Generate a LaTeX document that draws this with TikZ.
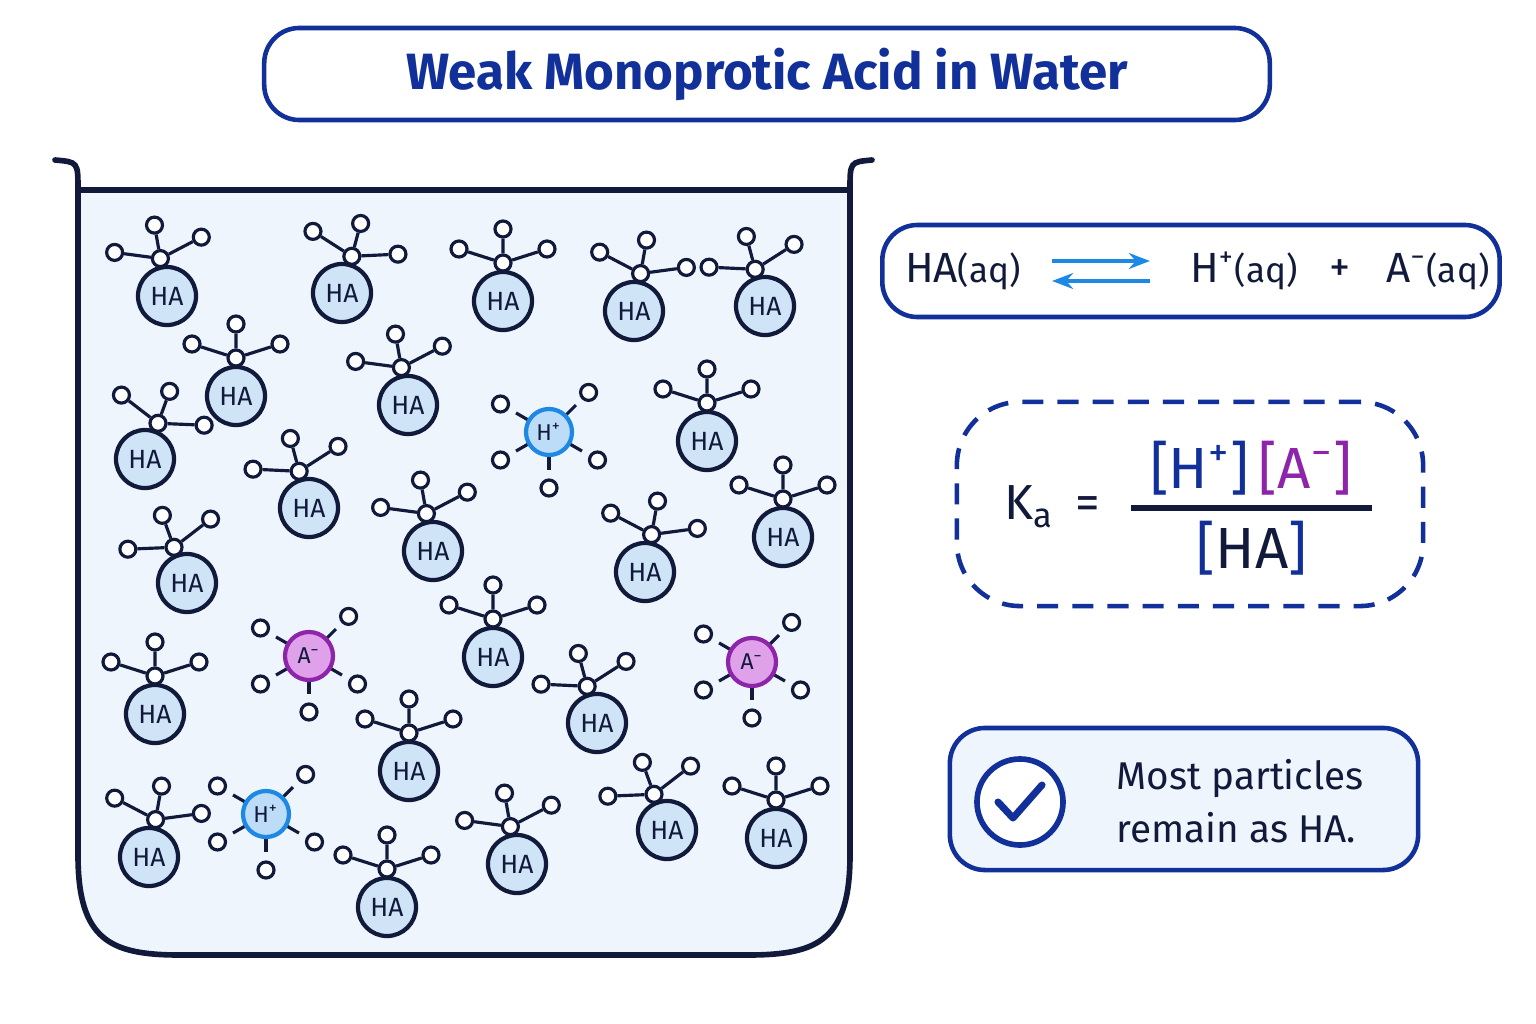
\documentclass[tikz,border=0pt]{standalone}
\usepackage{fontspec}
\setmainfont{Fira Sans}
\usetikzlibrary{arrows.meta,calc}
\definecolor{navy}{HTML}{12309A}
\definecolor{ink}{HTML}{111A3A}
\definecolor{water}{HTML}{EEF5FC}
\definecolor{hafill}{HTML}{CFE4F6}
\definecolor{hblue}{HTML}{1E88E5}
\definecolor{hfill}{HTML}{BCDCF7}
\definecolor{apurple}{HTML}{8E24AA}
\definecolor{afill}{HTML}{DFA2EA}
\tikzset{
  acid/.style={circle, draw=ink, line width=1.2pt, fill=hafill, minimum size=0.58cm, inner sep=0pt, font=\fontsize{7.5}{8}\selectfont\color{ink}},
  proton/.style={circle, draw=hblue, line width=1.2pt, fill=hfill, minimum size=0.46cm, inner sep=0pt, font=\fontsize{6.5}{7}\selectfont\color{ink}},
  anion/.style={circle, draw=apurple, line width=1.2pt, fill=afill, minimum size=0.48cm, inner sep=0pt, font=\fontsize{6.5}{7}\selectfont\color{ink}},
  atom/.style={circle, draw=ink, line width=0.9pt, fill=white, minimum size=0.16cm, inner sep=0pt},
  bond/.style={draw=ink, line width=0.9pt},
  panel/.style={draw=navy, line width=1.3pt, rounded corners=10pt, fill=white}
}
% HA with an attached water cluster: x, y, turn
\newcommand{\acidmol}[3]{
  \node[acid] (m) at (#1,#2) {HA};
  \begin{scope}[shift={(#1,#2)}, rotate=#3]
    \node[atom] (o) at (0,-38) {};
    \node[atom] (h1) at (-44,-52) {};
    \node[atom] (h2) at (0,-72) {};
    \node[atom] (h3) at (44,-52) {};
    \draw[bond] (o) -- (h1) (o) -- (h2) (o) -- (h3);
  \end{scope}}
% hydrated ion: x, y, style, label
\newcommand{\ionmol}[4]{
  \foreach \a in {90,150,30,210,-45} {
    \node[atom] (w) at ($(#1,#2)+(\a:56)$) {};
    \draw[bond, dashed, dash pattern=on 4pt off 3pt] ($(#1,#2)+(\a:24)$) -- (w);
  }
  \node[#3] (i) at (#1,#2) {#4};}
\begin{document}
\begin{tikzpicture}[x=0.01cm, y=-0.01cm]
\useasboundingbox[fill=white] (0,0) rectangle (1536,1024);
% title
\node[panel, minimum width=10.05cm, minimum height=0.92cm, font=\fontsize{14.5}{18}\selectfont\bfseries\color{navy}] (title) at (767,74) {Weak Monoprotic Acid in Water};
% beaker
\draw[ink, fill=water, line width=1.6pt, line cap=round] (55,160) .. controls (78,162) .. (78,190) -- (78,855)
  .. controls (78,940) and (110,955) .. (180,955) -- (748,955) .. controls (818,955) and (850,940) .. (850,855)
  -- (850,190) .. controls (850,162) .. (872,160);
\fill[white] (50,150) rectangle (880,189);
\draw[ink, line width=1.6pt, line cap=round] (55,160) .. controls (78,162) .. (78,190) -- (850,190) .. controls (850,162) .. (872,160);
% particles
\foreach \x/\y/\r in {167/296/10,342/293/-15,503/301/0,634/311/-10,765/306/15,
  236/396/0,408/405/10,707/441/0,145/459/-20,309/508/15,433/551/10,783/537/0,
  187/583/20,645/572/-10,155/714/0,493/657/0,597/723/15,409/771/0,149/857/-10,
  387/907/0,517/864/10,667/830/20,776/838/0}
  \acidmol{\x}{\y}{\r};
\ionmol{549}{432}{proton}{H\textsuperscript{+}}
\ionmol{266}{814}{proton}{H\textsuperscript{+}}
\ionmol{309}{656}{anion}{A\textsuperscript{−}}
\ionmol{752}{662}{anion}{A\textsuperscript{−}}
% equilibrium
\node[panel, minimum width=6.17cm, minimum height=0.92cm] (eq) at (1191,271) {};
\begin{scope}[font=\fontsize{12}{14}\selectfont\color{ink}]
  \node (ha) at (963,271) {HA\fontsize{10}{12}\selectfont(aq)};
  \node (hp) at (1244,271) {H\textsuperscript{+}\fontsize{10}{12}\selectfont(aq)};
  \node (pl) at (1340,271) {+};
  \node (am) at (1438,271) {A\textsuperscript{−}\fontsize{10}{12}\selectfont(aq)};
\end{scope}
\coordinate (f1) at (1052,261); \coordinate (f2) at (1150,261);
\coordinate (b1) at (1150,281); \coordinate (b2) at (1052,281);
\draw[hblue, line width=1.4pt, -{Stealth[length=6pt]}] (f1) -- (f2);
\draw[hblue, line width=1.4pt, -{Stealth[length=6pt]}] (b1) -- (b2);
% Ka
\node[panel, dashed, dash pattern=on 6pt off 4pt, rounded corners=18pt, minimum width=4.66cm, minimum height=2.04cm] (ka) at (1190,504) {};
\node[font=\fontsize{14}{16}\selectfont\color{ink}] (kal) at (1052,507) {K\textsubscript{a}\, =};
\node[font=\fontsize{16.5}{18}\selectfont] (num) at (1251,468) {\color{navy}[H\textsuperscript{+}]\,\color{apurple}[A\textsuperscript{−}]};
\node[font=\fontsize{16.5}{18}\selectfont] (den) at (1252,548) {\color{navy}[\color{ink}HA\color{navy}]};
\draw[ink, line width=1.5pt] (1131,508) -- (1372,508);
% note
\node[panel, fill=water, minimum width=4.68cm, minimum height=1.42cm] (note) at (1184,799) {};
\node[circle, draw=navy, line width=1.6pt, fill=white, minimum size=0.86cm] (tick) at (1020,802) {};
\draw[navy, line width=2pt, line cap=round, line join=round] (998,802) -- (1013,818) -- (1042,785);
\node[align=left, font=\fontsize{11}{15}\selectfont\color{ink}, anchor=west] (msg) at (1104,801) {Most particles\\remain as HA.};
\end{tikzpicture}
\end{document}
